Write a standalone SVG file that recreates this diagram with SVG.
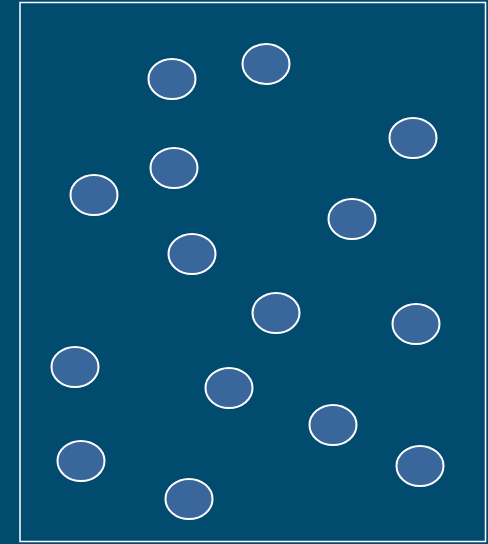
<svg xmlns="http://www.w3.org/2000/svg" width="488" height="544" viewBox="0 0 488 544">
<style>
.n{fill:#3a679b;stroke:#ffffff;stroke-width:2}
</style>
<rect x="0" y="0" width="488" height="544" fill="#004b6e"/>
<rect x="20" y="2.5" width="465.5" height="539" fill="none" stroke="#ffffff" stroke-width="1.5"/>
<g id="nodes">
<g id="n1"><ellipse class="n" cx="172" cy="79" rx="23.5" ry="20"/></g>
<g id="n2"><ellipse class="n" cx="266" cy="64" rx="23.5" ry="20"/></g>
<g id="n3"><ellipse class="n" cx="413" cy="138" rx="23.5" ry="20"/></g>
<g id="n4"><ellipse class="n" cx="174" cy="168" rx="23.5" ry="20"/></g>
<g id="n5"><ellipse class="n" cx="94" cy="195" rx="23.5" ry="20"/></g>
<g id="n6"><ellipse class="n" cx="352" cy="219" rx="23.5" ry="20"/></g>
<g id="n7"><ellipse class="n" cx="192" cy="254" rx="23.5" ry="20"/></g>
<g id="n8"><ellipse class="n" cx="276" cy="313" rx="23.5" ry="20"/></g>
<g id="n9"><ellipse class="n" cx="416" cy="324" rx="23.5" ry="20"/></g>
<g id="n10"><ellipse class="n" cx="75" cy="367" rx="23.5" ry="20"/></g>
<g id="n11"><ellipse class="n" cx="229" cy="388" rx="23.5" ry="20"/></g>
<g id="n12"><ellipse class="n" cx="333" cy="425" rx="23.5" ry="20"/></g>
<g id="n13"><ellipse class="n" cx="81" cy="461" rx="23.5" ry="20"/></g>
<g id="n14"><ellipse class="n" cx="420" cy="466" rx="23.5" ry="20"/></g>
<g id="n15"><ellipse class="n" cx="189" cy="499" rx="23.5" ry="20"/></g>
</g>
<g id="connectors"></g>
</svg>
